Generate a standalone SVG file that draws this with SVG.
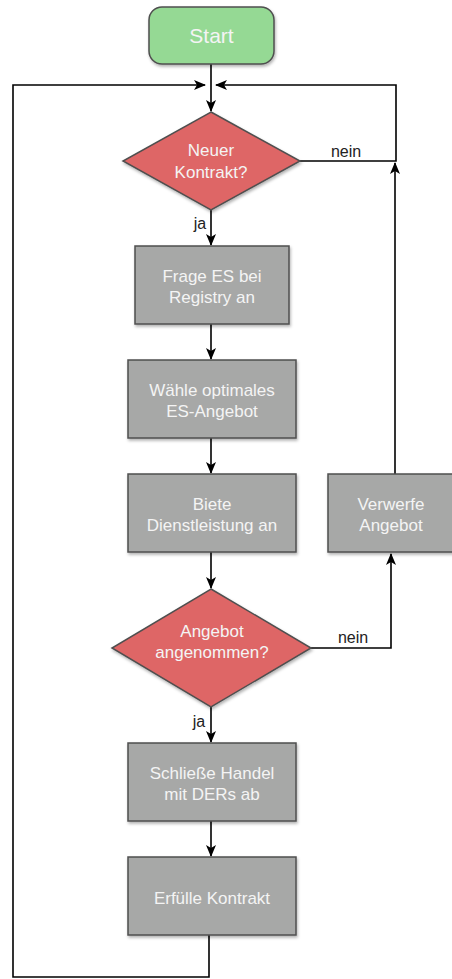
<svg xmlns="http://www.w3.org/2000/svg" width="452" height="979" viewBox="0 0 452 979">
  <defs>
    <marker id="arrow" viewBox="0 0 12 10" refX="11" refY="5" markerWidth="12" markerHeight="10" markerUnits="userSpaceOnUse" orient="auto">
      <path d="M0,0 L12,5 L0,10 L3,5 Z" fill="#000"/>
    </marker>
    <filter id="shadow" x="-10%" y="-10%" width="125%" height="130%">
      <feDropShadow dx="1" dy="2" stdDeviation="1.5" flood-color="#000" flood-opacity="0.3"/>
    </filter>
  </defs>
  <style>
    .box { fill: #a7a8a7; stroke: #4f4f4f; stroke-width: 1.5; filter: url(#shadow); }
    .dec { fill: #de6666; stroke: #4f4f4f; stroke-width: 1.5; filter: url(#shadow); }
    .start { fill: #95d994; stroke: #4f4f4f; stroke-width: 1.5; filter: url(#shadow); }
    .lbl { font-family: "Liberation Sans", Arial, sans-serif; font-size: 17px; fill: #f4f4f4; text-anchor: middle; }
    .edge { font-family: "Liberation Sans", Arial, sans-serif; font-size: 16px; fill: #222; text-anchor: middle; }
    .conn { fill: none; stroke: #000; stroke-width: 1.6; }
  </style>
  <rect width="452" height="979" fill="#fff"/>

  <g id="connectors">
    <line class="conn" x1="211" y1="64" x2="211" y2="111" marker-end="url(#arrow)"/>
    <polyline class="conn" points="209,935 209,977 13,977 13,85 205,85" marker-end="url(#arrow)"/>
    <polyline class="conn" points="300,161 396,161 396,85 216,85" marker-end="url(#arrow)"/>
    <line class="conn" x1="395" y1="474" x2="395" y2="163" marker-end="url(#arrow)"/>
    <line class="conn" x1="211" y1="210" x2="211" y2="245" marker-end="url(#arrow)"/>
    <line class="conn" x1="211" y1="324" x2="211" y2="359" marker-end="url(#arrow)"/>
    <line class="conn" x1="211" y1="438" x2="211" y2="473" marker-end="url(#arrow)"/>
    <line class="conn" x1="211" y1="552" x2="211" y2="588" marker-end="url(#arrow)"/>
    <polyline class="conn" points="311,648 391,648 391,554" marker-end="url(#arrow)"/>
    <line class="conn" x1="211" y1="707" x2="211" y2="742" marker-end="url(#arrow)"/>
    <line class="conn" x1="211" y1="821" x2="211" y2="856" marker-end="url(#arrow)"/>
    <text class="edge" x="346" y="157">nein</text>
    <text class="edge" x="200" y="229">ja</text>
    <text class="edge" x="353" y="643">nein</text>
    <text class="edge" x="199" y="727">ja</text>
  </g>

  <g id="start">
    <rect class="start" x="149" y="7" width="125" height="57" rx="13"/>
    <text class="lbl" x="211.5" y="43" style="font-size:21px">Start</text>
  </g>

  <g id="neuer-kontrakt">
    <polygon class="dec" points="211,112 300,161 211,210 123,161"/>
    <text class="lbl" x="211" y="156">Neuer</text>
    <text class="lbl" x="211" y="178">Kontrakt?</text>
  </g>

  <g id="frage-es">
    <rect class="box" x="135" y="246" width="154" height="78"/>
    <text class="lbl" x="212" y="282">Frage ES bei</text>
    <text class="lbl" x="212" y="303">Registry an</text>
  </g>

  <g id="waehle-angebot">
    <rect class="box" x="128" y="360" width="168" height="78"/>
    <text class="lbl" x="212" y="396">Wähle optimales</text>
    <text class="lbl" x="212" y="417">ES-Angebot</text>
  </g>

  <g id="biete-dienstleistung">
    <rect class="box" x="128" y="474" width="168" height="78"/>
    <text class="lbl" x="212" y="510">Biete</text>
    <text class="lbl" x="212" y="531">Dienstleistung an</text>
  </g>

  <g id="verwerfe-angebot">
    <rect class="box" x="328" y="474" width="126" height="78"/>
    <text class="lbl" x="391" y="510">Verwerfe</text>
    <text class="lbl" x="391" y="531">Angebot</text>
  </g>

  <g id="angebot-angenommen">
    <polygon class="dec" points="211,589 311,648 211,707 112,648"/>
    <text class="lbl" x="212" y="637">Angebot</text>
    <text class="lbl" x="212" y="658">angenommen?</text>
  </g>

  <g id="schliesse-handel">
    <rect class="box" x="128" y="743" width="168" height="78"/>
    <text class="lbl" x="212" y="779">Schließe Handel</text>
    <text class="lbl" x="212" y="800">mit DERs ab</text>
  </g>

  <g id="erfuelle-kontrakt">
    <rect class="box" x="128" y="857" width="168" height="78"/>
    <text class="lbl" x="212" y="904">Erfülle Kontrakt</text>
  </g>
</svg>
